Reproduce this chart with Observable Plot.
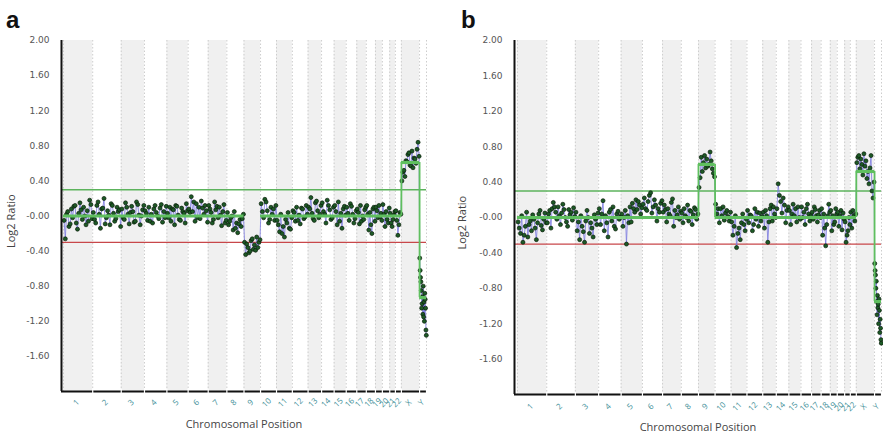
<!DOCTYPE html>
<html>
<head>
<meta charset="utf-8">
<script src="https://cdn.jsdelivr.net/npm/d3@7"></script>
<script src="https://cdn.jsdelivr.net/npm/@observablehq/plot@0.6"></script>
<style>
  body { margin: 0; background: #fff; }
  #fig { position: relative; width: 883px; height: 435px; overflow: hidden; background: #fff; }
  .panel { position: absolute; top: 0; }
  .tag { position: absolute; font: bold 24px "Liberation Sans", Arial, sans-serif; color: #111; line-height: 1; }
</style>
</head>
<body>
<div id="fig">
  <div class="panel" id="panelA" style="left:0px"></div>
  <div class="panel" id="panelB" style="left:441px"></div>
  <div class="tag" style="left:6px;top:8px">a</div>
  <div class="tag" style="left:461px;top:8px">b</div>
</div>
<script>
// Chromosomes in genome order and their lengths (Mb)
const chromosomes = ["1","2","3","4","5","6","7","8","9","10","11","12","13","14","15","16","17","18","19","20","21","22","X","Y"];
const chromLengthMb = [249,243,198,191,181,171,159,146,141,136,135,134,115,107,103,90,81,78,59,63,48,51,155,59];

// Y axis ticks
const yTickValues = [2, 1.6, 1.2, 0.8, 0.4, 0, -0.4, -0.8, -1.2, -1.6];
const yTickLabels = ["2.00","1.60","1.20","0.80","0.40","-0.00","-0.40","-0.80","-1.20","-1.60"];

// Call thresholds
const gainThreshold = 0.3;
const lossThreshold = -0.3;

// Probe log2 ratios per chromosome, sample a
const log2A = [
  [-0.05,-0.26,0.02,0.05,-0.12,-0.09,0.08,-0.02,0.11,0.12,-0.08,-0.15,0.03,0.15,0.07,-0.04,0.10,0.00,-0.10,0.06,-0.06,0.18,0.13,-0.03],
  [0.04,-0.04,-0.08,0.12,0.16,0.02,-0.14,0.08,0.09,0.20,-0.09,-0.02,0.06,0.01,-0.10,0.14,0.12,0.03,-0.06,-0.03,0.10,0.05,0.07,-0.12],
  [0.08,-0.02,-0.04,0.15,0.10,0.02,-0.09,0.04,0.11,0.05,-0.07,-0.06,0.16,0.13,0.01,-0.10,0.00,0.07,0.12],
  [0.06,0.03,-0.05,0.10,-0.06,0.02,-0.08,0.08,0.12,0.04,0.00,-0.03,0.09,0.13,-0.07,0.05,-0.02,0.11],
  [0.03,-0.02,0.10,-0.06,0.08,0.07,-0.10,0.12,0.11,0.01,-0.04,-0.05,0.09,0.05,0.03,-0.08,0.14,0.06],
  [0.08,0.04,0.22,0.05,0.16,-0.06,0.14,-0.02,0.10,-0.03,0.17,0.09,0.02,0.12,0.06,-0.07],
  [0.12,0.08,0.04,-0.08,-0.04,0.16,0.07,0.11,-0.02,0.10,0.01,-0.11,0.05,0.13,-0.08,-0.05],
  [0.04,-0.10,-0.06,-0.02,0.00,-0.16,0.05,-0.14,-0.08,-0.19,-0.09,-0.04,-0.12,-0.03,0.02],
  [-0.30,-0.44,-0.32,-0.36,-0.42,-0.40,-0.28,-0.26,-0.38,-0.33,-0.39,-0.24,-0.36,-0.30,-0.27],
  [0.14,0.05,-0.02,0.19,0.16,0.06,-0.08,-0.04,0.10,0.02,0.08,-0.05,0.12],
  [-0.05,-0.10,-0.18,0.02,-0.20,-0.12,-0.24,-0.04,-0.08,0.04,-0.14,-0.15,-0.02],
  [0.06,0.04,-0.06,0.10,-0.05,0.01,-0.09,0.09,0.08,-0.03,-0.01,0.12,0.02],
  [0.10,0.08,0.21,0.03,-0.03,-0.05,0.15,0.17,0.06,-0.02,0.02,0.12],
  [0.15,0.05,0.02,-0.08,0.18,0.12,0.07,-0.04,-0.02,0.10],
  [0.12,0.05,-0.10,0.16,-0.06,0.03,-0.14,0.08,0.11,0.01],
  [0.10,0.03,-0.05,0.14,0.11,0.02,-0.08,-0.03,0.06],
  [0.08,0.04,-0.09,0.12,-0.06,0.00,-0.04,0.07,0.10],
  [0.12,0.02,-0.16,0.04,-0.10,-0.20,0.08,0.10,-0.06],
  [0.10,0.06,-0.02,0.12,-0.01,0.03,-0.05],
  [0.13,0.02,-0.12,0.05,-0.04,-0.08,0.09],
  [0.03,-0.08,-0.12,-0.04,0.01,0.05],
  [0.06,-0.05,-0.22,-0.10,0.04,0.02],
  [0.40,0.50,0.52,0.45,0.63,0.62,0.70,0.72,0.58,0.57,0.74,0.55,0.66,0.65,0.60,0.76,0.84,0.68],
  [-0.48,-0.62,-0.70,-0.75,-0.85,-1.05,-1.00,-0.92,-1.12,-0.80,-1.15,-0.98,-1.20,-0.88,-0.95,-1.05,-1.30,-1.36]
];

// Probe log2 ratios per chromosome, sample b
const log2B = [
  [-0.05,-0.12,-0.18,0.02,-0.28,-0.20,-0.10,0.06,-0.22,-0.08,-0.04,-0.15,0.03,-0.02,-0.12,-0.25,-0.06,0.04,0.08,-0.09,-0.14,-0.02,0.05,-0.06],
  [-0.06,0.04,0.08,-0.12,0.10,0.17,0.12,0.06,-0.02,0.12,0.02,-0.08,0.05,0.15,0.09,0.00,-0.05,-0.10,0.09,0.03,0.06,-0.03,0.11,0.01],
  [0.06,-0.15,-0.05,-0.25,0.02,-0.10,-0.16,-0.28,-0.04,0.08,0.00,-0.18,-0.06,-0.12,-0.22,0.03,-0.02,-0.08,0.05],
  [0.10,-0.08,0.04,0.19,-0.15,0.02,-0.06,-0.22,0.06,0.09,-0.04,0.12,-0.10,-0.13,0.04,0.07,-0.02,0.01],
  [0.04,-0.10,0.00,0.08,-0.30,0.02,-0.06,0.12,-0.05,0.16,0.10,0.06,0.20,0.09,0.18,0.14,0.04,0.11],
  [0.15,0.22,0.10,0.08,0.18,0.25,0.28,0.05,0.12,0.20,0.14,-0.04,0.10,0.06,0.16,0.19],
  [0.06,0.14,0.09,-0.05,0.10,0.04,0.02,0.17,0.21,-0.10,0.08,0.00,0.03,0.12,-0.02,0.07],
  [0.05,-0.06,0.10,0.02,0.00,0.14,-0.04,0.08,0.07,-0.08,0.03,0.11,0.09,-0.02,0.04],
  [0.34,0.45,0.68,0.52,0.62,0.70,0.56,0.66,0.58,0.60,0.74,0.64,0.55,0.50,0.46],
  [0.15,0.04,0.10,-0.06,0.10,0.02,0.12,-0.03,0.05,0.08,0.01,-0.04,0.06],
  [-0.05,-0.20,-0.10,0.02,-0.34,-0.18,-0.12,-0.25,-0.06,0.04,-0.08,-0.15,-0.02],
  [0.08,-0.06,0.03,0.02,-0.15,-0.08,0.10,-0.02,0.06,-0.10,0.05,-0.04,0.01],
  [0.06,-0.12,0.08,0.02,-0.28,-0.05,0.10,0.14,-0.04,0.12,0.04,0.00],
  [0.10,0.38,0.25,0.18,0.05,0.22,0.14,-0.06,0.08,0.12],
  [0.08,-0.08,0.04,0.15,0.02,0.10,-0.05,0.12,0.00,-0.02],
  [0.12,0.00,0.06,-0.08,0.10,0.15,0.04,-0.04,0.02],
  [0.06,-0.02,0.12,0.09,0.02,-0.05,0.03,0.08,0.00],
  [0.10,-0.20,0.04,-0.12,-0.32,-0.08,0.02,0.15,0.06],
  [0.08,-0.15,0.02,-0.08,-0.05,0.10,0.04],
  [0.06,-0.10,0.02,0.08,-0.14,0.05,-0.02],
  [-0.05,-0.28,-0.20,-0.15,0.00,-0.08],
  [0.06,-0.12,0.08,0.02,-0.04,0.04],
  [0.62,0.68,0.70,0.55,0.66,0.60,0.48,0.72,0.58,0.64,0.44,0.52,0.38,0.56,0.70,0.30,0.22,0.40],
  [-0.52,-0.60,-0.65,-0.80,-0.72,-0.95,-1.10,-0.88,-1.02,-0.98,-1.20,-0.92,-1.05,-1.30,-1.15,-1.25,-1.38,-1.42]
];

// Segmentation calls: first chromosome, last chromosome, segment mean
const segStartA = ["1","10","X","Y"];
const segEndA   = ["8","22","X","Y"];
const segMeanA  = [0, 0, 0.61, -0.93];
const jumpsA    = ["X","Y"];

const segStartB = ["1","9","10","X","Y"];
const segEndB   = ["8","9","22","X","Y"];
const segMeanB  = [0, 0.6, 0, 0.52, -0.95];
const jumpsB    = ["9","10","X","Y"];

// Genome coordinates
const chromStart = [];
{ let acc = 0; for (const L of chromLengthMb) { chromStart.push(acc); acc += L; } }
const chromEnd = chromStart.map((s, i) => s + chromLengthMb[i]);
const idx = c => chromosomes.indexOf(c);

function panel({values, segStart, segEnd, segMean, jumps, width, marginLeft, marginRight, marginBottom, xDomain, tickDy, labelDx}) {
  const probes = values.flatMap((vals, i) =>
    vals.map((v, j) => ({chr: chromosomes[i], pos: chromStart[i] + chromLengthMb[i] * (j + 0.5) / vals.length, v})));
  const bands = chromosomes.map((c, i) => ({x1: chromStart[i], x2: chromEnd[i], i})).filter(d => d.i % 2 === 0);
  const boundaries = [...chromStart, chromEnd[chromEnd.length - 1]];
  const segs = segStart.map((s, k) => ({x1: chromStart[idx(s)], x2: chromEnd[idx(segEnd[k])], m: segMean[k]}));
  const steps = jumps.map(c => {
    const k = segStart.indexOf(c);
    return {x: chromStart[idx(c)], y1: segMean[k - 1], y2: segMean[k]};
  });

  return Plot.plot({
    width, height: 435,
    marginLeft, marginRight, marginTop: 40, marginBottom,
    style: {fontFamily: "'Open Sans', sans-serif", background: "white", overflow: "visible"},
    x: {domain: xDomain, axis: null},
    y: {domain: [-2, 2], axis: null},
    marks: [
      Plot.rect(bands, {x1: "x1", x2: "x2", y1: -2, y2: 2, fill: "#f0f0f0"}),
      Plot.ruleX(boundaries, {stroke: "#cdcdcd", strokeWidth: 1, strokeDasharray: "1.5,2"}),
      Plot.ruleY([gainThreshold], {stroke: "#5cb35c", strokeWidth: 1.6}),
      Plot.ruleY([lossThreshold], {stroke: "#c8474a", strokeWidth: 1.2}),
      Plot.line(probes, {x: "pos", y: "v", stroke: "#7a78e0", strokeWidth: 0.8}),
      Plot.dot(probes, {x: "pos", y: "v", r: 2, fill: "#1d5a26", stroke: "#0a1e0a", strokeWidth: 0.7}),
      Plot.ruleY(segs, {x1: "x1", x2: "x2", y: "m", stroke: "#5fbf5f", strokeWidth: 3.2}),
      Plot.ruleX(steps, {x: "x", y1: "y1", y2: "y2", stroke: "#5fbf5f", strokeWidth: 1.8}),
      // axis lines
      Plot.ruleX([xDomain[0]], {stroke: "#111", strokeWidth: 2}),
      Plot.ruleY([-2], {stroke: "#111", strokeWidth: 2.2}),
      Plot.ruleX(boundaries.slice(1), {y1: -2, y2: -2, insetTop: -2, insetBottom: -2, stroke: "#fff", strokeWidth: 1.2}),
      // y tick labels
      Plot.text(yTickValues, {y: d => d, text: (d, i) => yTickLabels[i], frameAnchor: "left", textAnchor: "end", dx: -12,
        fill: "#555", fontSize: 9, fontFamily: "'DejaVu Sans', sans-serif"}),
      // chromosome labels
      Plot.text(chromosomes, {x: (d, i) => chromStart[i] + chromLengthMb[i] / 2, text: d => d, frameAnchor: "bottom",
        dy: tickDy, rotate: -45, fill: "#3f9099", fontSize: 8}),
      Plot.text(["Chromosomal Position"], {frameAnchor: "bottom", dy: 36, fill: "#444", fontSize: 11}),
      Plot.text(["Log2 Ratio"], {frameAnchor: "left", rotate: -90, dx: labelDx, dy: 32, fill: "#444", fontSize: 11})
    ]
  });
}

document.getElementById("panelA").appendChild(panel({
  values: log2A, segStart: segStartA, segEnd: segEndA, segMean: segMeanA, jumps: jumpsA,
  width: 441, marginLeft: 61, marginRight: 15, marginBottom: 44, xDomain: [-17, 3093], tickDy: 13, labelDx: -50
}));
document.getElementById("panelB").appendChild(panel({
  values: log2B, segStart: segStartB, segEnd: segEndB, segMean: segMeanB, jumps: jumpsB,
  width: 442, marginLeft: 73, marginRight: 2, marginBottom: 41, xDomain: [-25, 3093], tickDy: 14, labelDx: -52
}));
</script>
</body>
</html>
